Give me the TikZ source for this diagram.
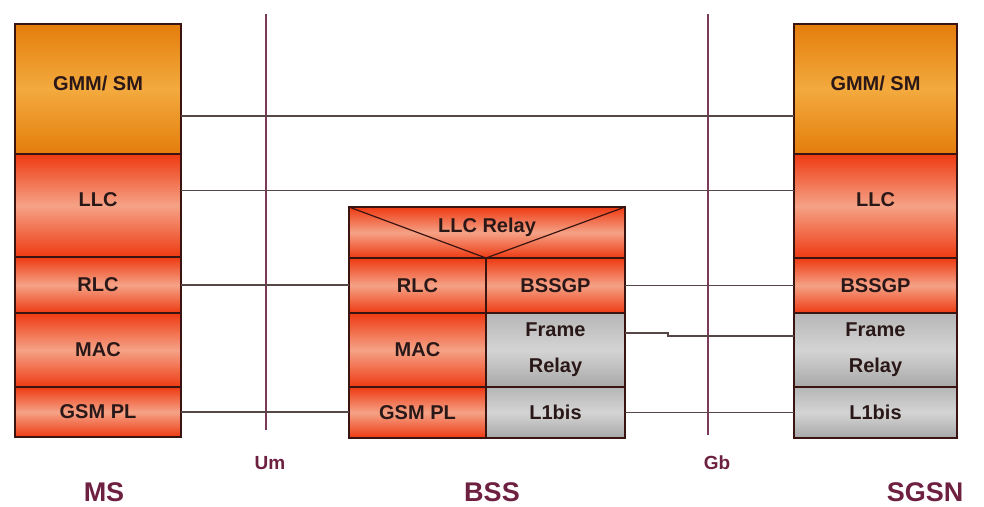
\documentclass[tikz,border=0pt]{standalone}
\usepackage{fontspec}
\setmainfont{Liberation Sans}
\usetikzlibrary{positioning}
\definecolor{orA}{HTML}{E47D0C}
\definecolor{orB}{HTML}{F3AA3E}
\definecolor{rdA}{HTML}{EE3A12}
\definecolor{rdB}{HTML}{F5A286}
\definecolor{gyA}{HTML}{B6B6B6}
\definecolor{gyB}{HTML}{D4D4D4}
\definecolor{gyC}{HTML}{A8A8A8}
\definecolor{edge}{HTML}{3A1410}
\definecolor{txt}{HTML}{2A1818}
\definecolor{maroon}{HTML}{6E2040}
\definecolor{ifline}{HTML}{7B3A5A}
\definecolor{link}{HTML}{564646}
\tikzset{
  layer/.style={draw=edge, line width=1.3pt, anchor=north west, inner sep=0pt, outer sep=0pt,
    font=\bfseries\fontsize{20}{36}\selectfont, text=txt, align=center},
  orangelayer/.style={layer, top color=orA, bottom color=orA, middle color=orB},
  redlayer/.style={layer, top color=rdA, bottom color=rdA, middle color=rdB},
  graylayer/.style={layer, top color=gyA, bottom color=gyC, middle color=gyB},
  raised/.style={text depth=12pt},
  peerlink/.style={draw=link, line width=1.3pt},
  iface/.style={draw=ifline, line width=1.3pt},
  iflabel/.style={font=\bfseries\fontsize{19}{21}\selectfont, text=maroon},
  sitelabel/.style={font=\bfseries\fontsize{27}{30}\selectfont, text=maroon}
}
\begin{document}
\begin{tikzpicture}[x=1pt,y=-1pt]
\useasboundingbox (0,0) rectangle (984,506);
% interfaces
\coordinate (umtop) at (266,14);
\coordinate (umbot) at (266,430);
\coordinate (gbtop) at (708,14);
\coordinate (gbbot) at (708,435);
\draw[iface] (umtop) -- (umbot);
\draw[iface] (gbtop) -- (gbbot);
\node[iflabel] (um) at (270,463) {Um};
\node[iflabel] (gb) at (717,463) {Gb};
% MS
\begin{scope}[every node/.append style={minimum width=166pt}]
\node[orangelayer, raised, minimum height=130pt] (msgmm) at (15,24) {GMM/ SM};
\node[redlayer, raised, minimum height=103pt, below=0pt of msgmm] (msllc) {LLC};
\node[redlayer, minimum height=56pt, below=0pt of msllc] (msrlc) {RLC};
\node[redlayer, minimum height=74pt, below=0pt of msrlc] (msmac) {MAC};
\node[redlayer, minimum height=50pt, below=0pt of msmac] (msphy) {GSM PL};
\end{scope}
% SGSN
\begin{scope}[every node/.append style={minimum width=163pt}]
\node[orangelayer, raised, minimum height=130pt] (sggmm) at (794,24) {GMM/ SM};
\node[redlayer, raised, minimum height=104pt, below=0pt of sggmm] (sgllc) {LLC};
\node[redlayer, minimum height=55pt, below=0pt of sgllc] (sgbssgp) {BSSGP};
\node[graylayer, minimum height=74pt, below=0pt of sgbssgp] (sgfr) {Frame\\Relay};
\node[graylayer, minimum height=51pt, below=0pt of sgfr] (sgl1) {L1bis};
\end{scope}
% BSS
\node[redlayer, minimum width=276pt, minimum height=51pt] (relay) at (349,207) {};
\begin{scope}[every node/.append style={minimum width=137pt}]
\node[redlayer, minimum height=55pt, below right=0pt of relay.south west] (bssrlc) {RLC};
\node[redlayer, minimum height=74pt, below=0pt of bssrlc] (bssmac) {MAC};
\node[redlayer, minimum height=51pt, below=0pt of bssmac] (bssphy) {GSM PL};
\end{scope}
\begin{scope}[every node/.append style={minimum width=139pt}]
\node[redlayer, minimum height=55pt, right=0pt of bssrlc] (bssbssgp) {BSSGP};
\node[graylayer, minimum height=74pt, right=0pt of bssmac] (bssfr) {Frame\\Relay};
\node[graylayer, minimum height=51pt, right=0pt of bssphy] (bssl1) {L1bis};
\end{scope}
\draw[draw=edge, line width=1.2pt] (relay.north west) -- (bssrlc.north east) -- (relay.north east);
\node[font=\bfseries\fontsize{20}{22}\selectfont, text=txt] (relaytext) at ([yshift=5pt]relay.center) {LLC Relay};
% peer links
\draw[peerlink] ([yshift=-27pt]msgmm.east) -- ([yshift=-27pt]msgmm.east -| sggmm.west);
\draw[peerlink] ([yshift=15pt]msllc.east) -- ([yshift=15pt]msllc.east -| sgllc.west);
\draw[peerlink] (msrlc.east) -- (msrlc.east -| bssrlc.west);
\draw[peerlink] (bssbssgp.east) -- (bssbssgp.east -| sgbssgp.west);
\draw[peerlink] ([yshift=17pt]bssfr.east) -- ++(43,0) |- ([yshift=14pt]sgfr.west);
\draw[peerlink] (msphy.east) -- (msphy.east -| bssphy.west);
\draw[peerlink] (bssl1.east) -- (bssl1.east -| sgl1.west);
% sites
\node[sitelabel] (ms) at (104,492) {MS};
\node[sitelabel] (bss) at (492,492) {BSS};
\node[sitelabel] (sgsn) at (925,492) {SGSN};
\end{tikzpicture}
\end{document}
